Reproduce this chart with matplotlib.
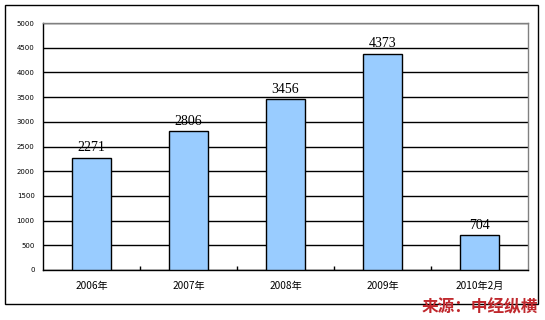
import matplotlib.pyplot as plt
from matplotlib.patches import Rectangle

plt.rcParams['font.family'] = ['Noto Sans CJK SC', 'DejaVu Sans']

# Data
categories = ['2006年', '2007年', '2008年', '2009年', '2010年2月']
values = [2271, 2806, 3456, 4373, 704]
yticks = [0, 500, 1000, 1500, 2000, 2500, 3000, 3500, 4000, 4500, 5000]

fig = plt.figure(figsize=(5.45, 3.2), dpi=100)
ax = fig.add_axes([43 / 545, 1 - 270 / 320, (528 - 43) / 545, (270 - 23) / 320])

x = range(len(categories))
ax.bar(x, values, width=0.4, color='#99CCFF', edgecolor='black', linewidth=1, zorder=3)

for xi, v in zip(x, values):
    ax.annotate(str(v), (xi, v), xytext=(0, 10), textcoords='offset pixels',
                ha='center', va='center', fontsize=10,
                family='Liberation Serif', zorder=4)

ax.set_xlim(-0.5, len(categories) - 0.5)
ax.set_ylim(0, 5000)
ax.set_yticks(yticks)
ax.set_yticklabels([str(t) for t in yticks], fontsize=5, family='DejaVu Sans')
ax.yaxis.grid(True, color='black', linewidth=1, zorder=0)
ax.set_axisbelow(True)

ax.set_xticks(list(x))
ax.set_xticklabels(categories, fontsize=7.3)
ax.tick_params(axis='x', length=0, pad=8)
ax.tick_params(axis='y', length=0, pad=6)
# boundary tick marks between categories
ax.set_xticks([i + 0.5 for i in range(len(categories) - 1)], minor=True)
ax.tick_params(axis='x', which='minor', direction='in', length=3, width=1)

ax.spines['left'].set_color('black')
ax.spines['bottom'].set_color('black')
ax.spines['top'].set_color('#808080')
ax.spines['right'].set_color('#808080')
for s in ax.spines.values():
    s.set_linewidth(1)

# outer frame
fig.patches.append(Rectangle((5 / 545, 1 - 304 / 320), (538 - 5) / 545, (304 - 5) / 320,
                             transform=fig.transFigure, fill=False,
                             edgecolor='black', linewidth=1))

fig.text(538 / 545, 1 - 307 / 320, '来源：中经纵横', ha='right', va='center',
         color='#C0282D', fontsize=12, fontweight='bold')

fig.savefig('out.png', dpi=100)
